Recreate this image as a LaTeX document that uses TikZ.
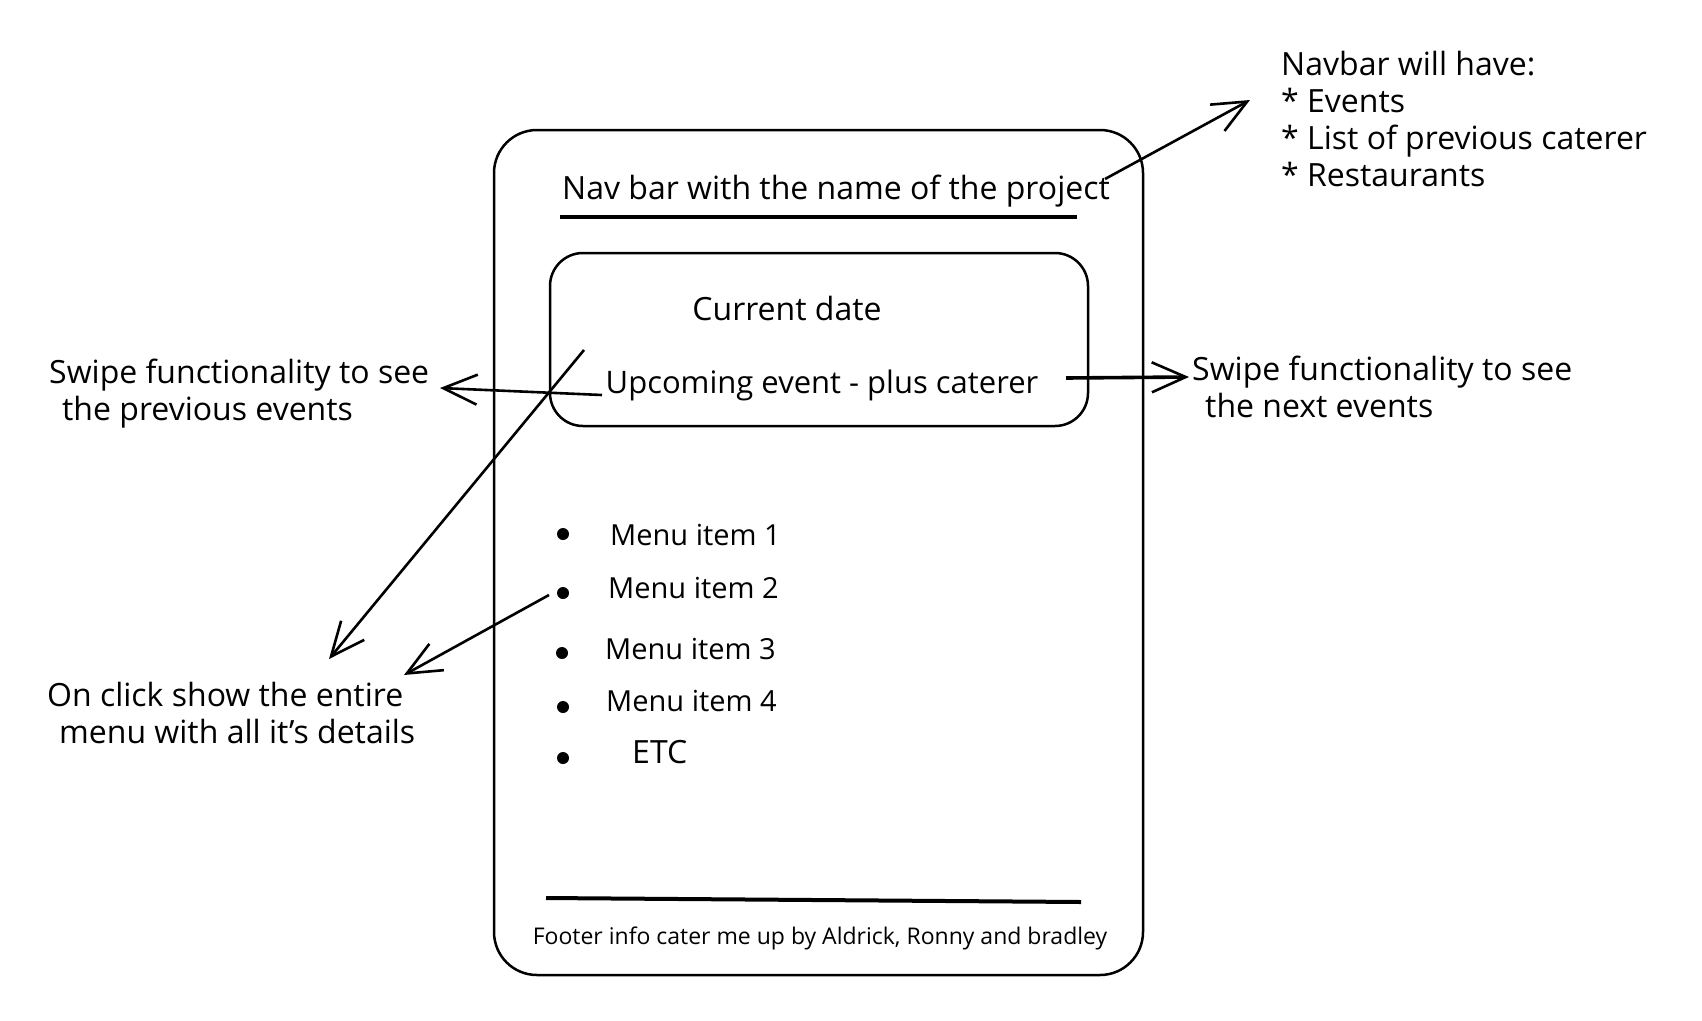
\documentclass[tikz,border=0pt]{standalone}
\usepackage{fontspec}
\setmainfont{Open Sans}
\usetikzlibrary{arrows.meta}
\begin{document}
\begin{tikzpicture}[x=1pt,y=-1pt,
  txt/.style={font=\fontsize{32}{37}\selectfont, inner sep=0pt, align=left},
  menutxt/.style={font=\fontsize{29}{34}\selectfont, inner sep=0pt},
  smalltxt/.style={font=\fontsize{23}{28}\selectfont, inner sep=0pt},
  frame/.style={draw, line width=2.5pt, inner sep=0pt},
  arr/.style={line width=2.6pt, -{Straight Barb[length=34pt,width=30pt,line width=2.6pt]}},
  bullet/.style={circle, fill, inner sep=0pt, minimum size=12pt}]
\useasboundingbox (0,0) rectangle (1702,1020);
% phone frame
\node[frame, rounded corners=43pt, minimum width=649pt, minimum height=845pt] (phone) at (818.5,552.5) {};
% nav bar
\node[txt] (nav) at (836,191) {Nav bar with the name of the project};
\draw[line width=4pt] (560,217) -- (1077,217);
% inner box
\node[frame, rounded corners=33pt, minimum width=538pt, minimum height=173pt] (card) at (819,339.5) {};
\node[txt] (curdate) at (787,308) {Current date};
\node[txt, font=\fontsize{31}{36}\selectfont] (upcoming) at (822,385) {Upcoming event - plus caterer};
% menu
\node[bullet] (b1) at (563,534) {};
\node[bullet] (b2) at (563,593) {};
\node[bullet] (b3) at (562,653) {};
\node[bullet] (b4) at (563,707) {};
\node[bullet] (b5) at (563,758) {};
\node[menutxt, anchor=west] (m1) at (610,535) {Menu item 1};
\node[menutxt, anchor=west] (m2) at (608,588) {Menu item 2};
\node[menutxt, anchor=west] (m3) at (605,649) {Menu item 3};
\node[menutxt, anchor=west] (m4) at (606,701) {Menu item 4};
\node[menutxt, font=\fontsize{32}{37}\selectfont, anchor=west] (m5) at (632,752) {ETC};
% footer
\draw[line width=4pt] (546,898) -- (1081,902);
\node[smalltxt] (footer) at (820,938) {Footer info cater me up by Aldrick, Ronny and bradley};
% annotations
\node[txt, anchor=north west] (navlist) at (1281,51) {Navbar will have:\\* Events\\* List of previous caterer\\* Restaurants};
\node[txt, anchor=west] (lswipe) at (49,394) {Swipe functionality to see\\\hspace*{13pt}the previous events};
\node[txt, anchor=west] (rswipe) at (1192,387) {Swipe functionality to see\\\hspace*{13pt}the next events};
\node[txt, anchor=west] (onclick) at (47,713) {On click show the entire\\\hspace*{12pt}menu with all it's details};
% connector end points
\coordinate (navstart) at (1105,179);
\coordinate (navtip) at (1250,100);
\coordinate (lstart) at (602,395);
\coordinate (ltip) at (440,388);
\coordinate (rstart) at (1066,378);
\coordinate (rtip) at (1189,377);
\coordinate (dstart) at (584,350);
\coordinate (dtip) at (329,659);
\coordinate (mstart) at (549,595);
\coordinate (mtip) at (404,675);
\draw[arr] (navstart) -- (navtip);
\draw[arr] (lstart) -- (ltip);
\draw[arr, line width=3.6pt] (rstart) -- (rtip);
\draw[arr] (dstart) -- (dtip);
\draw[arr] (mstart) -- (mtip);
\end{tikzpicture}
\end{document}
